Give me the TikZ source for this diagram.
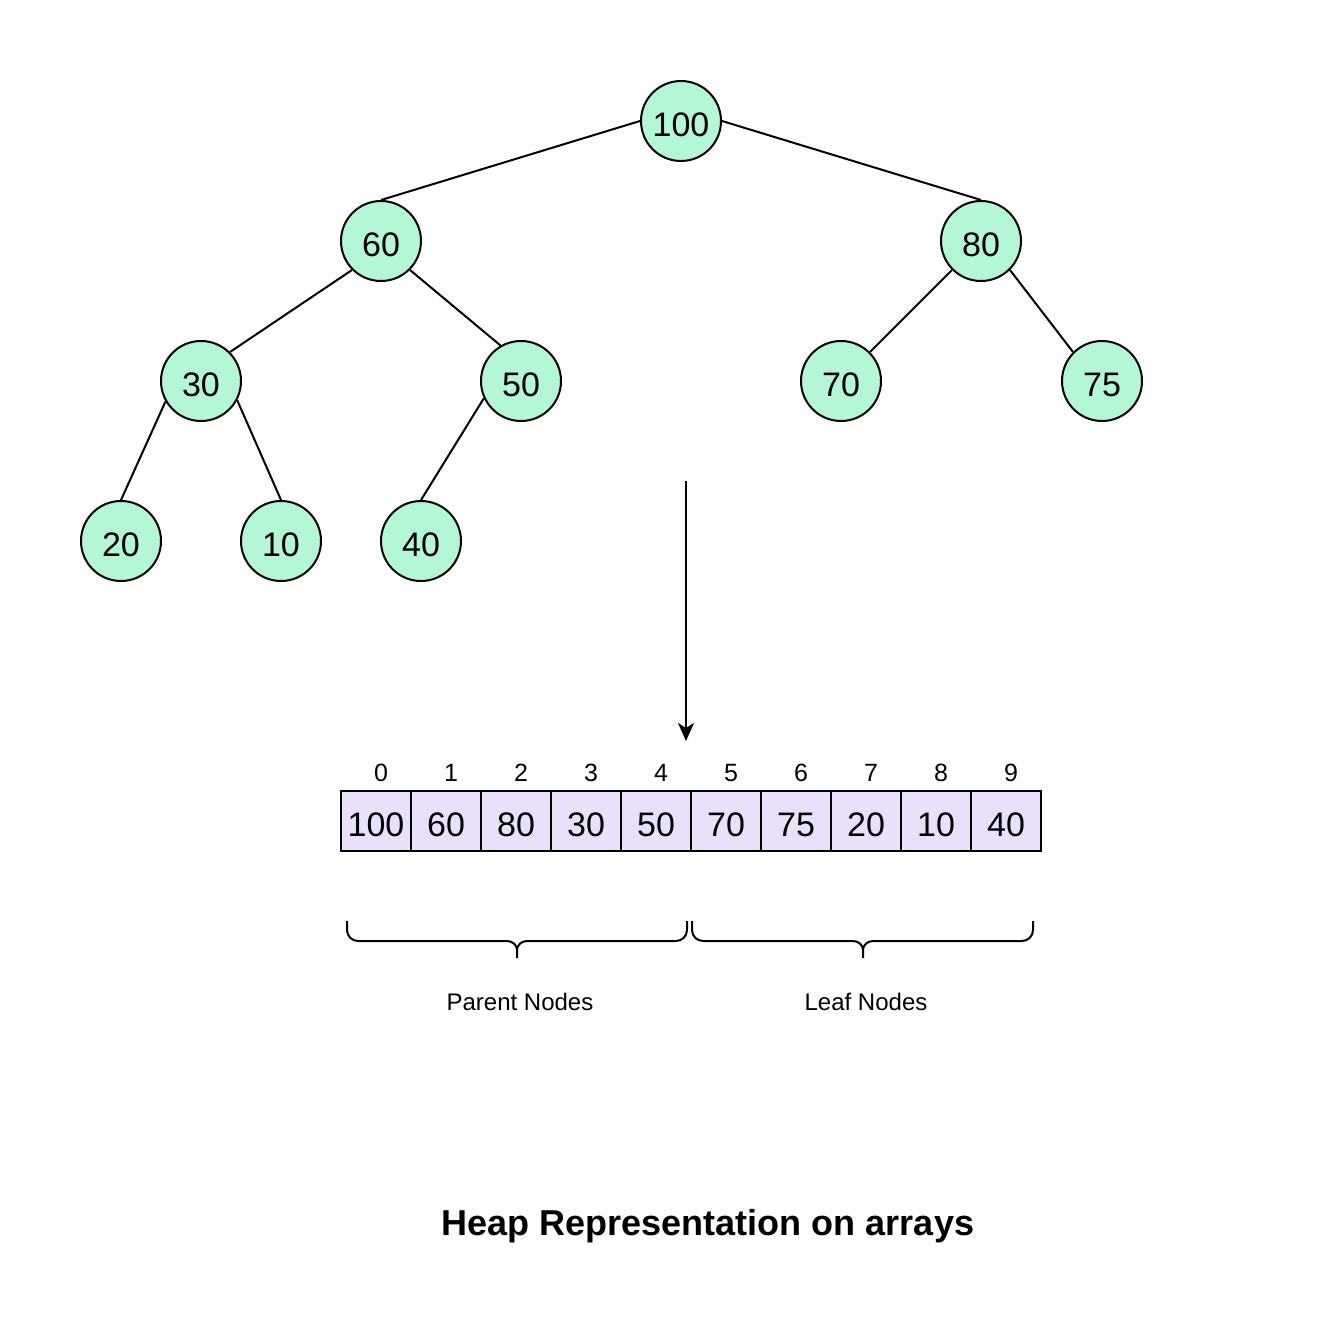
\documentclass[tikz,border=0pt]{standalone}
\usepackage{fontspec}
\setmainfont{Liberation Sans}
\usepackage{tikz}
\usetikzlibrary{arrows.meta,positioning,calc}

\definecolor{heapgreen}{HTML}{B3F7D5}
\definecolor{cellpurple}{HTML}{E9E0FA}

\tikzset{
  heapnode/.style={circle, draw, line width=2pt, fill=heapgreen, minimum size=80pt, inner sep=0pt,
    text height=30pt, text depth=0pt, font=\fontsize{34}{40}\selectfont},
  cell/.style={draw, line width=2pt, fill=cellpurple, minimum width=70pt, minimum height=60pt, inner sep=0pt,
    text height=30pt, text depth=0pt, font=\fontsize{34}{40}\selectfont},
  idx/.style={inner sep=0pt, font=\fontsize{25}{28}\selectfont},
  edge/.style={line width=2pt},
  bracepath/.style={line width=2pt, line join=round},
  caption/.style={inner sep=0pt, font=\fontsize{24}{28}\selectfont}
}

\begin{document}
\begin{tikzpicture}[x=1pt, y=-1pt]
\useasboundingbox (0,0) rectangle (1318,1322);

% tree
\node[heapnode] (n100) at (681,121) {100};
\node[heapnode] (n60) at (381,241) {60};
\node[heapnode] (n80) at (981,241) {80};
\node[heapnode] (n30) at (201,381) {30};
\node[heapnode] (n50) at (521,381) {50};
\node[heapnode] (n70) at (841,381) {70};
\node[heapnode] (n75) at (1102,381) {75};
\node[heapnode] (n20) at (121,541) {20};
\node[heapnode] (n10) at (281,541) {10};
\node[heapnode] (n40) at (421,541) {40};

\draw[edge] (n100.west) -- (n60.north);
\draw[edge] (n100.east) -- (n80.north);
\draw[edge] (n60.south west) -- (n30.north east);
\draw[edge] (n60.south east) -- (n50.120);
\draw[edge] (n80.south west) -- (n70.north east);
\draw[edge] (n80.south east) -- (n75.north west);
\draw[edge] (n30.210) -- (n20.north);
\draw[edge] (n30.332) -- (n10.north);
\draw[edge] (n50.205) -- (n40.north);

% arrow down to the array
\coordinate (arrtop) at (686,481);
\coordinate (arrbot) at (686,741);
\draw[edge, -{Stealth[length=18pt, width=16pt, inset=5pt]}] (arrtop) -- (arrbot);

% array
\foreach \v [count=\i from 0] in {100,60,80,30,50,70,75,20,10,40} {
  \node[cell] (c\i) at ({376+70*\i},821) {\v};
  \node[idx] (i\i) at ({381+70*\i},773) {\i};
}

% braces
\foreach \a/\b/\m in {347/687/517, 692/1033/863} {
  \draw[bracepath] (\a,921) -- (\a,930) to[out=-90,in=180] ({\a+11},941)
    -- ({\m-10},941) to[out=0,in=90] (\m,950) -- (\m,958);
  \draw[bracepath] (\m,950) to[out=90,in=180] ({\m+10},941)
    -- ({\b-11},941) to[out=0,in=-90] (\b,930) -- (\b,921);
}
\node[caption] (parent) at (520,1002) {Parent Nodes};
\node[caption] (leaf) at (866,1002) {Leaf Nodes};

% title
\node[inner sep=0pt, font=\fontsize{36}{42}\selectfont\bfseries] (title) at (708,1226) {Heap Representation on arrays};
\end{tikzpicture}
\end{document}
